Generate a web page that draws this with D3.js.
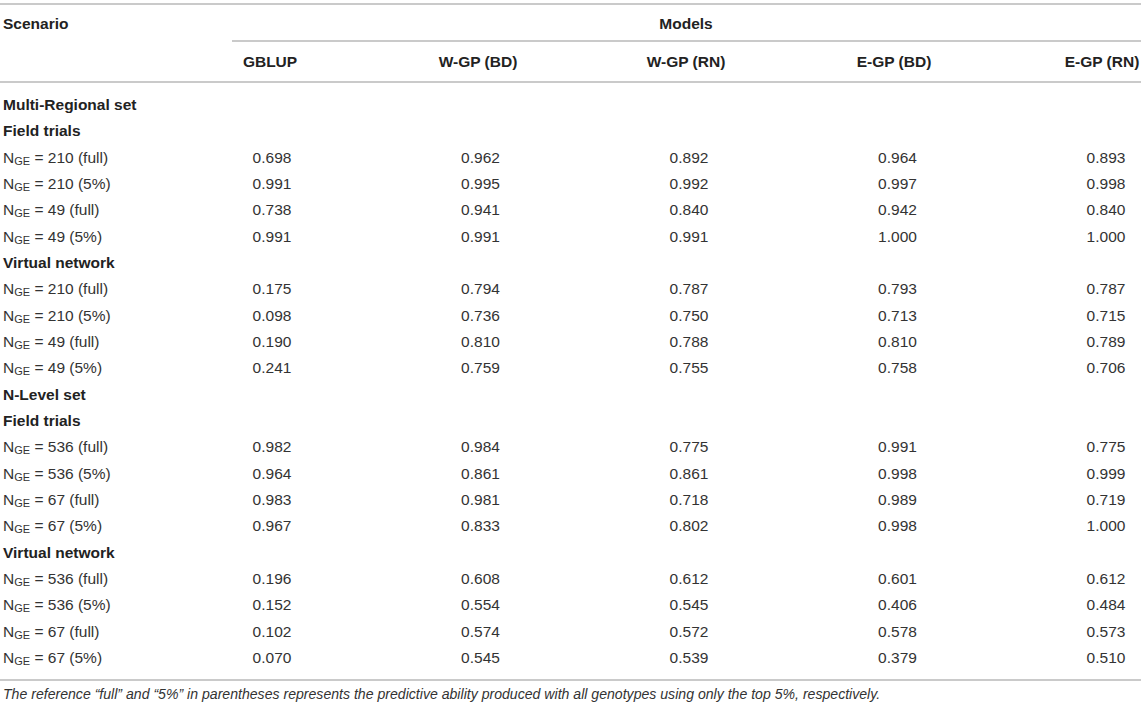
<!DOCTYPE html>
<html>
<head>
<meta charset="utf-8">
<script src="https://cdn.jsdelivr.net/npm/d3@7"></script>
<style>
  body { margin: 0; background: #fff; }
  svg { display: block; font-family: 'Liberation Sans', Arial, sans-serif; }
</style>
</head>
<body>
<div id="chart"></div>
<script>
(function() {
  'use strict';

  var models = ['GBLUP', 'W-GP (BD)', 'W-GP (RN)', 'E-GP (BD)', 'E-GP (RN)'];
  var sets = ['Multi-Regional set', 'N-Level set'];
  var envs = ['Field trials', 'Virtual network'];
  var mrScenarios = ['210 (full)', '210 (5%)', '49 (full)', '49 (5%)'];
  var nlScenarios = ['536 (full)', '536 (5%)', '67 (full)', '67 (5%)'];

  var mrField = [
    [0.698, 0.962, 0.892, 0.964, 0.893],
    [0.991, 0.995, 0.992, 0.997, 0.998],
    [0.738, 0.941, 0.840, 0.942, 0.840],
    [0.991, 0.991, 0.991, 1.000, 1.000]
  ];
  var mrVirtual = [
    [0.175, 0.794, 0.787, 0.793, 0.787],
    [0.098, 0.736, 0.750, 0.713, 0.715],
    [0.190, 0.810, 0.788, 0.810, 0.789],
    [0.241, 0.759, 0.755, 0.758, 0.706]
  ];
  var nlField = [
    [0.982, 0.984, 0.775, 0.991, 0.775],
    [0.964, 0.861, 0.861, 0.998, 0.999],
    [0.983, 0.981, 0.718, 0.989, 0.719],
    [0.967, 0.833, 0.802, 0.998, 1.000]
  ];
  var nlVirtual = [
    [0.196, 0.608, 0.612, 0.601, 0.612],
    [0.152, 0.554, 0.545, 0.406, 0.484],
    [0.102, 0.574, 0.572, 0.578, 0.573],
    [0.070, 0.545, 0.539, 0.379, 0.510]
  ];

  var footnote = 'The reference \u201cfull\u201d and \u201c5%\u201d in parentheses represents the predictive ability produced with all genotypes using only the top 5%, respectively.';

  var width = 1145, height = 709;
  var lineColor = '#b8b8b8';
  var textColor = '#333';
  var fmt = d3.format('.3f');

  // flatten the table body into rows
  var rows = [];
  function addBlock(set, scenarios, blocks) {
    rows.push({ type: 'set', label: set });
    blocks.forEach(function(vals, b) {
      rows.push({ type: 'env', label: envs[b] });
      vals.forEach(function(v, i) {
        rows.push({ type: 'data', label: scenarios[i], values: v });
      });
    });
  }
  addBlock(sets[0], mrScenarios, [mrField, mrVirtual]);
  addBlock(sets[1], nlScenarios, [nlField, nlVirtual]);

  var svg = d3.select('#chart')
      .append('svg')
    .attr('width', width)
    .attr('height', height);

  // header and value columns sit slightly apart in the original
  var xHead = d3.scalePoint().domain(models).range([270, 1102]);
  var xVal = d3.scalePoint().domain(models).range([272, 1106]);
  var y = d3.scalePoint().domain(d3.range(rows.length)).range([110, 663]);

  // rules
  var rules = [
    { x1: 0, x2: 1141, y: 4 },
    { x1: 232, x2: 1141, y: 41 },
    { x1: 0, x2: 1141, y: 82 },
    { x1: 0, x2: 1141, y: 680 }
  ];
  svg.selectAll('line.rule')
      .data(rules)
    .enter().append('line')
      .attr('class', 'rule')
      .attr('x1', function(d) { return d.x1; })
      .attr('x2', function(d) { return d.x2; })
      .attr('y1', function(d) { return d.y; })
      .attr('y2', function(d) { return d.y; })
      .style('stroke', lineColor)
      .style('stroke-width', 1.6);

  // header
  svg.append('text')
    .attr('x', 3)
    .attr('y', 29)
    .style('font-size', '15.5px')
    .style('font-weight', 'bold')
    .style('fill', '#222')
    .text('Scenario');

  svg.append('text')
    .attr('x', 686)
    .attr('y', 29)
    .style('text-anchor', 'middle')
    .style('font-size', '15.5px')
    .style('font-weight', 'bold')
    .style('fill', '#222')
    .text('Models');

  svg.selectAll('text.model')
      .data(models)
    .enter().append('text')
      .attr('class', 'model')
      .attr('x', function(d) { return xHead(d); })
      .attr('y', 67)
      .style('text-anchor', 'middle')
      .style('font-size', '15.5px')
      .style('font-weight', 'bold')
      .style('fill', '#222')
      .text(function(d) { return d; });

  // body rows
  var row = svg.selectAll('g.row')
      .data(rows)
    .enter().append('g')
      .attr('class', 'row')
      .attr('transform', function(d, i) { return 'translate(0,' + y(i) + ')'; });

  row.filter(function(d) { return d.type !== 'data'; })
    .append('text')
      .attr('x', 3)
      .style('font-size', '15.5px')
      .style('font-weight', 'bold')
      .style('fill', '#222')
      .text(function(d) { return d.label; });

  var label = row.filter(function(d) { return d.type === 'data'; })
    .append('text')
      .attr('x', 3)
      .style('font-size', '15.5px')
      .style('fill', textColor);
  label.append('tspan').text('N');
  label.append('tspan')
    .attr('dy', 2)
    .style('font-size', '11px')
    .text('GE');
  label.append('tspan')
    .attr('dy', -2)
    .text(function(d) { return ' = ' + d.label; });

  row.filter(function(d) { return d.type === 'data'; })
    .selectAll('text.val')
      .data(function(d) { return d.values.map(function(v, j) { return { model: models[j], v: v }; }); })
    .enter().append('text')
      .attr('class', 'val')
      .attr('x', function(d) { return xVal(d.model); })
      .style('text-anchor', 'middle')
      .style('font-size', '15.5px')
      .style('fill', textColor)
      .text(function(d) { return fmt(d.v); });

  // footnote
  svg.append('text')
    .attr('x', 3)
    .attr('y', 699)
    .style('font-size', '14.1px')
    .style('font-style', 'italic')
    .style('fill', textColor)
    .text(footnote);
})();
</script>
</body>
</html>
